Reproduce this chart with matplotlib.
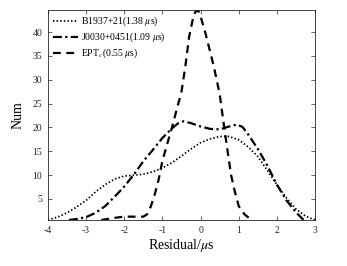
import numpy as np
import matplotlib
matplotlib.use("Agg")
import matplotlib.pyplot as plt

plt.rcParams['font.family'] = ['Liberation Serif', 'DejaVu Serif']
plt.rcParams['mathtext.fontset'] = 'stix'

# --- B1937+21 (pointillé) ---
x_b = [-4.0, -3.75, -3.5, -3.25, -3.0, -2.75, -2.5, -2.25, -2.0, -1.75, -1.5,
       -1.25, -1.0, -0.75, -0.5, -0.25, 0.0, 0.25, 0.5, 0.75, 1.0, 1.25, 1.5,
       1.75, 2.0, 2.25, 2.5, 2.75, 3.0]
y_b = [0.6, 1.2, 2.1, 3.3, 4.7, 6.5, 8.0, 9.2, 9.8, 10.0, 10.2,
       10.7, 11.5, 12.6, 14.0, 15.5, 16.8, 17.6, 18.1, 18.1, 17.4, 15.9, 13.9,
       11.0, 8.0, 5.2, 2.9, 1.4, 0.6]

# --- J0030+0451 (tiret-point) ---
x_j = [-3.45, -3.25, -3.0, -2.75, -2.5, -2.25, -2.0, -1.75, -1.5, -1.25, -1.0,
       -0.75, -0.6, -0.45, -0.25, 0.0, 0.25, 0.5, 0.75, 0.95, 1.1, 1.25, 1.5,
       1.75, 2.0, 2.25, 2.5, 2.7]
y_j = [0.6, 0.8, 1.2, 2.1, 3.5, 5.5, 7.6, 10.1, 12.9, 15.3, 17.8,
       19.8, 20.8, 21.3, 20.9, 20.2, 19.7, 19.6, 20.2, 20.6, 20.1, 18.5, 15.5,
       12.0, 8.0, 4.7, 2.2, 0.6]

# --- EPT_c (tirets) ---
x_e = [-2.6, -2.3, -2.0, -1.75, -1.5, -1.4, -1.3, -1.2, -1.1, -1.0, -0.75,
       -0.5, -0.4, -0.3, -0.2, -0.15, -0.1, -0.05, 0.0, 0.13, 0.35, 0.5, 0.62,
       0.7, 0.8, 0.9, 1.0, 1.15, 1.33]
y_e = [0.6, 1.0, 1.3, 1.3, 1.3, 1.8, 3.5, 6.0, 9.0, 13.0, 20.0,
       27.5, 32.7, 39.0, 42.8, 44.0, 44.6, 44.3, 43.3, 39.7, 32.7, 27.0, 20.0,
       15.5, 10.0, 6.5, 3.5, 1.8, 0.6]

labels = [r'B1937+21(1.38 $\mu$s)', r'J0030+0451(1.09 $\mu$s)',
          r'EPT$_c$(0.55 $\mu$s)']

fig = plt.figure(figsize=(3.47, 2.66), dpi=100)
ax = fig.add_axes([0.138, 0.173, 0.77, 0.789])

ax.plot(x_b, y_b, color='k', lw=1.3, linestyle=(0, (0.8, 1.2)), label=labels[0])
ax.plot(x_j, y_j, color='k', lw=1.6, linestyle=(0, (4, 1.5, 1, 1.5)), label=labels[1])
ax.plot(x_e, y_e, color='k', lw=1.6, linestyle=(0, (3.5, 2.5)), label=labels[2])

ax.set_xlim(-4, 3)
ax.set_ylim(0.6, 44.6)
ax.set_xticks(range(-4, 4))
ax.set_xticklabels(['-4', '-3', '-2', '-1', '0', '1', '2', '3'])
ax.set_yticks(range(5, 45, 5))
ax.tick_params(direction='in', top=True, right=True, labelsize=7, length=3,
               width=0.5, colors='0.15', pad=4)
for s in ax.spines.values():
    s.set_linewidth(0.6)
    s.set_color('0.15')

ax.set_xlabel(r'Residual/$\mu$s', fontsize=10, labelpad=2)
ax.set_ylabel('Num', fontsize=10, labelpad=6)

ax.legend(loc='upper left', frameon=False, fontsize=7, handlelength=2.6,
          handletextpad=0.3, labelspacing=0.25, borderaxespad=0.3,
          borderpad=0.2)

fig.savefig('out.png', dpi=100)
